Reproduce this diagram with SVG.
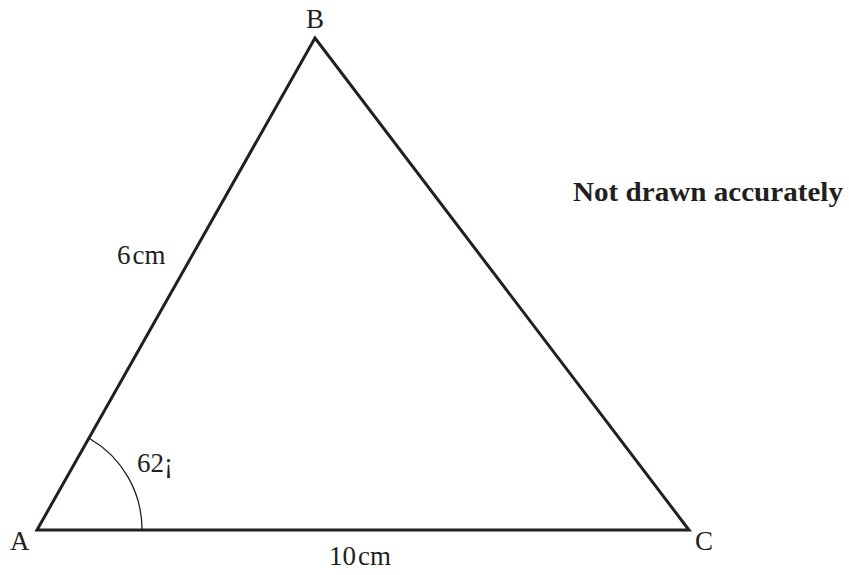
<svg xmlns="http://www.w3.org/2000/svg" width="849" height="575" viewBox="0 0 849 575">
<style>
text{font-family:"Liberation Serif","Times New Roman",serif;font-size:27px;fill:#231f20}
.b{font-weight:bold;font-size:28px}
.edge{stroke:#231f20;stroke-width:3;fill:none;stroke-linejoin:miter}
.arc{stroke:#231f20;stroke-width:1.3;fill:none}
</style>
<rect width="849" height="575" fill="#fff"/>
<g id="connectors">
<polygon class="edge" points="37,530 315,38 689,530"/>
<path class="arc" d="M 89.5,438.5 A 105 105 0 0 1 142,530"/>
</g>
<g id="A"><text x="10" y="550">A</text></g>
<g id="B"><text x="306" y="28">B</text></g>
<g id="C"><text x="695" y="550">C</text></g>
<g id="labels">
<text x="117" y="264">6<tspan dx="2">cm</tspan></text>
<text x="137" y="472">62¡</text>
<text x="329" y="565">10<tspan dx="2">cm</tspan></text>
<text class="b" x="573" y="201" textLength="270" lengthAdjust="spacingAndGlyphs">Not drawn accurately</text>
</g>
</svg>
